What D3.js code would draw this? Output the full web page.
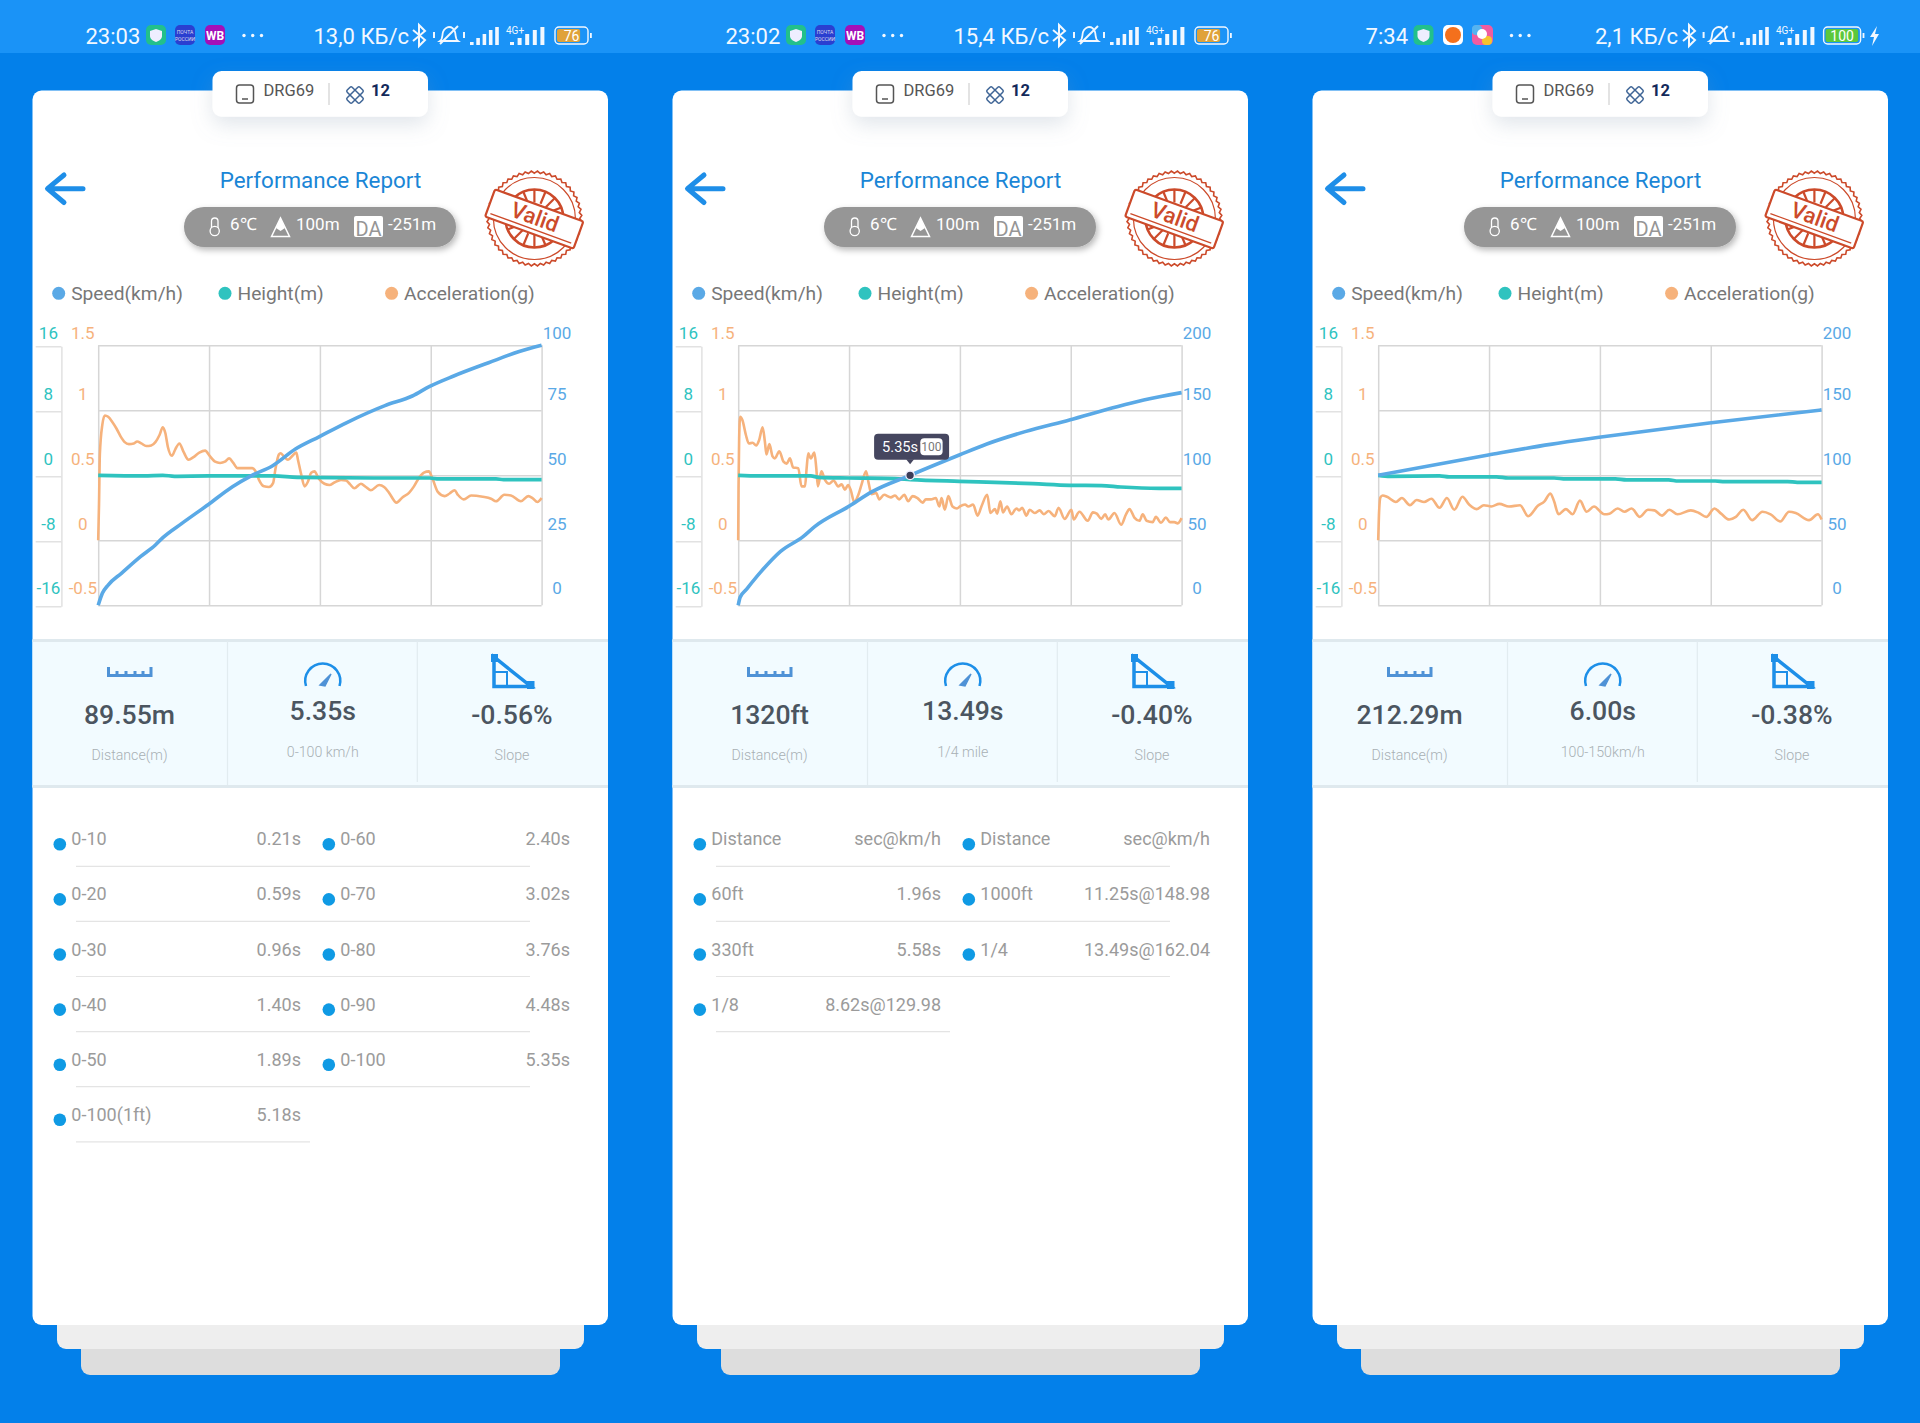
<!DOCTYPE html>
<html>
<head>
<meta charset="utf-8">
<script src="https://cdn.jsdelivr.net/npm/d3@7"></script>
<style>
  html, body { margin: 0; padding: 0; background: #0380ea; }
  svg { display: block; font-family: Roboto, sans-serif; }
</style>
</head>
<body>
<svg id="chart" width="1920" height="1423"></svg>
<script>
// values, time in seconds
var accTicks = [-0.5, 0, 0.5, 1, 1.5];
var heightTicks = [-16, -8, 0, 8, 16];
var speedTicks1 = [0, 25, 50, 75, 100];
var speedTicks2 = [0, 50, 100, 150, 200];
var labelNudge = [-17.7, -16.9, -16.9, -16.8, -12.8];

var acc1Times = [0,0.01,0.02,0.05,0.08,0.12,0.17,0.22,0.27,0.32,0.37,0.43,0.47,0.52,0.58,0.64,0.69,0.74,0.78,0.81,0.84,0.89,0.93,0.98,1.03,1.09,1.15,1.22,1.29,1.35,1.41,1.47,1.53,1.58,1.63,1.68,1.76,1.86,1.90,1.94,2.00,2.06,2.11,2.14,2.18,2.20,2.24,2.29,2.35,2.39,2.41,2.45,2.49,2.53,2.57,2.61,2.66,2.73,2.79,2.85,2.93,2.99,3.04,3.09,3.17,3.23,3.29,3.39,3.45,3.51,3.60,3.67,3.75,3.81,3.87,3.93,3.99,4.03,4.10,4.18,4.24,4.30,4.34,4.41,4.50,4.64,4.74,4.80,4.90,4.98,5.10,5.19,5.24,5.30,5.35];
var acc1Values = [0,0.28,0.66,0.89,0.96,0.95,0.91,0.86,0.80,0.755,0.74,0.745,0.76,0.745,0.725,0.73,0.755,0.81,0.87,0.825,0.72,0.65,0.70,0.745,0.68,0.62,0.64,0.675,0.69,0.645,0.605,0.595,0.605,0.63,0.595,0.555,0.555,0.555,0.53,0.465,0.415,0.41,0.44,0.555,0.66,0.67,0.645,0.62,0.655,0.675,0.62,0.505,0.415,0.45,0.52,0.53,0.475,0.435,0.425,0.445,0.465,0.46,0.43,0.40,0.435,0.41,0.385,0.425,0.41,0.365,0.29,0.33,0.365,0.415,0.48,0.52,0.53,0.48,0.37,0.34,0.36,0.385,0.35,0.315,0.345,0.335,0.32,0.30,0.35,0.345,0.30,0.34,0.325,0.295,0.325];
var speed1Times = [0,0.05,0.12,0.28,0.51,0.69,0.78,1.01,1.33,1.62,1.85,2.10,2.38,2.67,3.00,3.46,3.79,4.00,4.29,4.71,5.08,5.35];
var speed1Values = [0,4.6,7.8,12.3,18.7,23.2,26,31.5,38.8,45.6,49.9,53.6,60.1,64.9,70.3,76.8,80.5,84.2,88.2,93.3,97.6,100];
var height1Times = [0,0.55,0.78,0.92,1.33,2.12,2.40,3.32,4.00,4.11,4.80,4.89,5.35];
var height1Values = [0,-0.08,0,-0.12,-0.08,-0.08,-0.25,-0.33,-0.33,-0.45,-0.45,-0.53,-0.53];

var acc2Times = [0,0.01,0.03,0.06,0.13,0.24,0.33,0.45,0.56,0.65,0.76,0.83,0.88,0.97,1.07,1.14,1.28,1.41,1.51,1.61,1.71,1.87,1.97,2.08,2.13,2.18,2.26,2.37,2.43,2.48,2.59,2.70,2.83,2.97,3.11,3.22,3.32,3.42,3.51,3.61,3.74,3.84,3.98,4.06,4.15,4.29,4.39,4.54,4.75,4.88,5.01,5.17,5.29,5.43,5.58,5.74,5.84,6.00,6.15,6.26,6.33,6.43,6.54,6.67,6.81,6.90,7.06,7.16,7.31,7.45,7.57,7.75,7.85,7.99,8.06,8.16,8.24,8.37,8.50,8.66,8.74,8.84,8.97,9.07,9.23,9.38,9.51,9.66,9.85,9.97,10.16,10.37,10.44,10.62,10.88,11.04,11.16,11.30,11.42,11.52,11.71,11.92,12.07,12.18,12.33,12.49,12.59,12.71,12.90,13.00,13.16,13.31,13.44,13.57,13.68,13.8];
var acc2Values = [0,0.40,0.785,0.95,0.925,0.81,0.745,0.75,0.73,0.77,0.87,0.76,0.66,0.74,0.645,0.63,0.685,0.605,0.59,0.63,0.56,0.555,0.415,0.415,0.555,0.67,0.63,0.675,0.555,0.415,0.53,0.465,0.435,0.46,0.415,0.43,0.39,0.425,0.38,0.295,0.35,0.43,0.53,0.44,0.355,0.365,0.315,0.35,0.33,0.345,0.315,0.35,0.30,0.34,0.325,0.29,0.315,0.315,0.325,0.26,0.325,0.235,0.34,0.26,0.245,0.26,0.275,0.26,0.275,0.19,0.26,0.35,0.21,0.24,0.205,0.30,0.215,0.26,0.20,0.245,0.23,0.25,0.19,0.235,0.21,0.23,0.20,0.225,0.185,0.25,0.165,0.235,0.16,0.22,0.15,0.215,0.205,0.165,0.20,0.16,0.21,0.12,0.20,0.24,0.175,0.15,0.20,0.15,0.14,0.18,0.135,0.175,0.14,0.14,0.13,0.17];
var speed2Times = [0,0.06,0.24,0.71,1.31,2.02,2.38,3.43,4.17,5.35,6.88,7.74,8.93,10.31,11.79,12.62,13.8];
var speed2Values = [0,6.2,11.8,25.9,41.3,52.8,60.5,75.9,87.4,100,115.6,124.1,133.6,142.6,152.8,157.9,163.6];
var height2Times = [0,0.64,2.26,2.50,3.43,4.88,5.36,6.88,7.98,9.17,10.31,11.31,11.91,13.10,13.8];
var height2Values = [0,-0.08,-0.08,-0.25,-0.33,-0.41,-0.53,-0.74,-0.86,-1.03,-1.23,-1.27,-1.44,-1.6,-1.6];

var acc3Times = [0,0.01,0.03,0.06,0.12,0.24,0.32,0.43,0.52,0.62,0.72,0.83,0.93,1.03,1.14,1.23,1.33,1.43,1.53,1.64,1.77,1.92,2.03,2.16,2.25,2.33,2.38,2.44,2.54,2.63,2.73,2.82,2.92,3.06,3.13,3.24,3.33,3.43,3.54,3.65,3.74,3.84,3.94,4.05,4.23,4.34,4.44,4.55,4.64,4.75,4.84,4.94,5.06,5.20,5.31,5.44,5.56,5.65,5.83,5.95,6];
var acc3Values = [0,0.19,0.33,0.345,0.335,0.295,0.325,0.27,0.31,0.295,0.32,0.25,0.325,0.235,0.335,0.275,0.24,0.27,0.26,0.28,0.26,0.27,0.185,0.265,0.30,0.36,0.30,0.20,0.24,0.20,0.305,0.22,0.26,0.20,0.205,0.245,0.22,0.245,0.18,0.235,0.23,0.19,0.235,0.20,0.23,0.21,0.18,0.245,0.205,0.16,0.18,0.235,0.155,0.22,0.20,0.145,0.22,0.21,0.155,0.20,0.16];
var speed3Times = [0,1.49,2.33,2.99,4.48,6];
var speed3Values = [100,115.6,123.8,129.2,140.3,150.3];
var height3Times = [0,0.16,0.83,0.96,1.60,1.76,2.38,2.54,3.21,3.36,3.93,4.06,4.56,4.69,5.54,5.67,6];
var height3Values = [0,-0.12,-0.08,-0.2,-0.2,-0.33,-0.33,-0.45,-0.45,-0.57,-0.57,-0.7,-0.7,-0.78,-0.78,-0.86,-0.86];

var legendNames = ["Speed(km/h)", "Height(m)", "Acceleration(g)"];
var stats1 = ["89.55m", "5.35s", "-0.56%"];
var stats2 = ["1320ft", "13.49s", "-0.40%"];
var stats3 = ["212.29m", "6.00s", "-0.38%"];
var statLabels1 = ["Distance(m)", "0-100 km/h", "Slope"];
var statLabels2 = ["Distance(m)", "1/4 mile", "Slope"];
var statLabels3 = ["Distance(m)", "100-150km/h", "Slope"];

var list1Left = [["0-10","0.21s"],["0-20","0.59s"],["0-30","0.96s"],["0-40","1.40s"],["0-50","1.89s"],["0-100(1ft)","5.18s"]];
var list1Right = [["0-60","2.40s"],["0-70","3.02s"],["0-80","3.76s"],["0-90","4.48s"],["0-100","5.35s"]];
var list2Left = [["Distance","sec@km/h"],["60ft","1.96s"],["330ft","5.58s"],["1/8","8.62s@129.98"]];
var list2Right = [["Distance","sec@km/h"],["1000ft","11.25s@148.98"],["1/4","13.49s@162.04"]];

var panels = [
  { tMax: 5.35, speedTicks: speedTicks1, acc: [acc1Times, acc1Values], speed: [speed1Times, speed1Values], height: [height1Times, height1Values],
    stats: stats1, statLabels: statLabels1, left: list1Left, right: list1Right },
  { tMax: 13.8, speedTicks: speedTicks2, acc: [acc2Times, acc2Values], speed: [speed2Times, speed2Values], height: [height2Times, height2Values],
    stats: stats2, statLabels: statLabels2, left: list2Left, right: list2Right, tip: { t: 5.35, speed: 100 } },
  { tMax: 6, speedTicks: speedTicks2, acc: [acc3Times, acc3Values], speed: [speed3Times, speed3Values], height: [height3Times, height3Values],
    stats: stats3, statLabels: statLabels3, left: [], right: [] }
];

// status bars differ a bit between the three phones
var statusBars = [
  { time: "23:03", rate: "13,0 КБ/с", timeX: 85.5, shield: 146, appA: 175, appB: 205, dots: 244, rateX: 313.5, bt: 419, bell: 449, sig: 470, sig2: 510, bat: 555, level: "76" },
  { time: "23:02", rate: "15,4 КБ/с", timeX: 85.5, shield: 146, appA: 175, appB: 205, dots: 244, rateX: 313.5, bt: 419, bell: 449, sig: 470, sig2: 510, bat: 555, level: "76" },
  { time: "7:34", rate: "2,1 КБ/с", timeX: 85.6, shield: 133.5, appA: 163, appB: 192, dots: 231.5, rateX: 315, bt: 409, bell: 438.6, sig: 460, sig2: 500, bat: 543.6, level: "100" }
];

var svg = d3.select("#chart");
var defs = svg.append("defs");
var soft = defs.append("filter").attr("id", "soft").attr("x", "-30%").attr("y", "-50%").attr("width", "160%").attr("height", "250%");
soft.append("feDropShadow").attr("dx", 0).attr("dy", 8).attr("stdDeviation", 10).attr("flood-color", "#8a9ab0").attr("flood-opacity", 0.25);
var pillShade = defs.append("filter").attr("id", "pillShade").attr("x", "-10%").attr("y", "-30%").attr("width", "120%").attr("height", "180%");
pillShade.append("feDropShadow").attr("dx", 2).attr("dy", 3).attr("stdDeviation", 3).attr("flood-color", "#000").attr("flood-opacity", 0.28);

svg.append("rect").attr("width", 1920).attr("height", 1423).attr("fill", "#0380ea");
svg.append("rect").attr("width", 1920).attr("height", 53).attr("fill", "#1a93f7");

var plotLeft = 98.2, plotRight = 541.6, plotTop = 345.3, plotBottom = 605.3;
var blue = "#5aa9e6", teal = "#2fc3bf", orange = "#f6b27c", dotBlue = "#0f9ae4";

panels.forEach(function(p, i) {
  var g = svg.append("g").attr("transform", "translate(" + (640 * i) + ",0)");
  drawStatus(g, statusBars[i], i);
  drawCard(g);
  drawHeader(g);
  drawLegend(g);
  drawChart(g, p);
  drawStats(g, p);
  drawList(g, p.left, 0);
  drawList(g, p.right, 1);
});

function drawStatus(g, s, i) {
  var white = "#f2f8ff";
  g.append("text").attr("x", s.timeX).attr("y", 43.5).attr("font-size", 22).attr("fill", white).text(s.time);
  // shield
  g.append("rect").attr("x", s.shield).attr("y", 25).attr("width", 20).attr("height", 20).attr("rx", 5).attr("fill", "#22c08b");
  g.append("path").attr("d", "M" + (s.shield + 10) + ",29l6,2v5c0,3 -3,5 -6,6c-3,-1 -6,-3 -6,-6v-5z").attr("fill", "#eef");
  if (i < 2) {
    g.append("rect").attr("x", s.appA).attr("y", 25).attr("width", 20).attr("height", 20).attr("rx", 5).attr("fill", "#2a3fd0");
    g.append("text").attr("x", s.appA + 10).attr("y", 34).attr("text-anchor", "middle").attr("font-size", 5).attr("fill", "#dde").text("ПОЧТА");
    g.append("text").attr("x", s.appA + 10).attr("y", 41).attr("text-anchor", "middle").attr("font-size", 5).attr("fill", "#dde").text("РОССИИ");
    g.append("rect").attr("x", s.appB).attr("y", 25).attr("width", 20).attr("height", 20).attr("rx", 5).attr("fill", "#a30fb8");
    g.append("text").attr("x", s.appB + 10).attr("y", 40).attr("text-anchor", "middle").attr("font-size", 12).attr("font-weight", 700).attr("fill", "#fff").text("WB");
  } else {
    g.append("rect").attr("x", s.appA).attr("y", 25).attr("width", 20).attr("height", 20).attr("rx", 5).attr("fill", "#fff");
    g.append("circle").attr("cx", s.appA + 10).attr("cy", 35).attr("r", 8).attr("fill", "#f4701c");
    g.append("rect").attr("x", s.appB).attr("y", 25).attr("width", 21).attr("height", 20).attr("rx", 5).attr("fill", "#f05ca0");
    g.append("rect").attr("x", s.appB).attr("y", 25).attr("width", 10).attr("height", 10).attr("rx", 4).attr("fill", "#55b4f0");
    g.append("rect").attr("x", s.appB + 10).attr("y", 36).attr("width", 10).attr("height", 9).attr("rx", 4).attr("fill", "#f6c22e");
    g.append("circle").attr("cx", s.appB + 10).attr("cy", 34).attr("r", 5).attr("fill", "#fff");
  }
  [0, 8.7, 17.5].forEach(function(d) {
    g.append("circle").attr("cx", s.dots + d).attr("cy", 35.5).attr("r", 1.7).attr("fill", white);
  });
  g.append("text").attr("x", s.rateX).attr("y", 43.5).attr("font-size", 22).attr("fill", white).text(s.rate);
  // bluetooth
  g.append("path").attr("d", "M" + (s.bt - 6) + ",30L" + (s.bt + 6) + ",40L" + s.bt + ",46V25L" + (s.bt + 6) + ",31L" + (s.bt - 6) + ",41")
    .attr("fill", "none").attr("stroke", white).attr("stroke-width", 2);
  // muted bell
  g.append("path").attr("d", "M" + (s.bell - 9) + ",41c3,-2 2,-6 3,-9c1,-3 4,-5 6,-5c3,0 5,2 6,5c1,3 0,7 3,9z").attr("fill", "none").attr("stroke", white).attr("stroke-width", 1.8);
  g.append("path").attr("d", "M" + (s.bell - 9) + ",44L" + (s.bell + 9) + ",26").attr("stroke", white).attr("stroke-width", 2);
  g.append("path").attr("d", "M" + (s.bell - 15) + ",32v6M" + (s.bell + 15) + ",32v6").attr("stroke", white).attr("stroke-width", 2);
  // signal bars
  [3, 7, 11, 15, 18].forEach(function(h, k) {
    g.append("rect").attr("x", s.sig + k * 6.3).attr("y", 45 - h).attr("width", 3.6).attr("height", h).attr("fill", white);
    g.append("rect").attr("x", s.sig2 + k * 7.6).attr("y", 45 - h).attr("width", 4).attr("height", h).attr("fill", white);
  });
  g.append("text").attr("x", s.sig2 - 4).attr("y", 34).attr("font-size", 10).attr("fill", white).text("4G+");
  // battery
  var w = i < 2 ? 33 : 37;
  var fillCol = i < 2 ? "#e0a23a" : "#5cc83c";
  g.append("rect").attr("x", s.bat).attr("y", 27).attr("width", w).attr("height", 17).attr("rx", 4).attr("fill", "none").attr("stroke", white).attr("stroke-width", 1.4);
  g.append("rect").attr("x", s.bat + 2).attr("y", 29).attr("width", w * (i < 2 ? 0.7 : 0.88)).attr("height", 13).attr("rx", 2).attr("fill", fillCol);
  g.append("rect").attr("x", s.bat + w + 2).attr("y", 33).attr("width", 1.8).attr("height", 5).attr("fill", white);
  g.append("text").attr("x", s.bat + w / 2).attr("y", 41).attr("text-anchor", "middle").attr("font-size", 14).attr("fill", "#fff").text(s.level);
  if (i == 2) {
    g.append("path").attr("d", "M597,26l-7,11h4l-2,9l7,-12h-4z").attr("fill", white);
  }
}

function drawCard(g) {
  g.append("rect").attr("x", 81).attr("y", 1300).attr("width", 479).attr("height", 75).attr("rx", 9).attr("fill", "#dddddd");
  g.append("rect").attr("x", 57).attr("y", 1280).attr("width", 527).attr("height", 69).attr("rx", 9).attr("fill", "#eeeeee");
  g.append("rect").attr("x", 32.5).attr("y", 90.5).attr("width", 575.5).attr("height", 1234.5).attr("rx", 9).attr("fill", "#fff");
}

function drawHeader(g) {
  // device pill
  g.append("rect").attr("x", 212.5).attr("y", 71).attr("width", 215.5).attr("height", 45.7).attr("rx", 9).attr("fill", "#fff").attr("filter", "url(#soft)");
  g.append("rect").attr("x", 236.5).attr("y", 85).attr("width", 17).attr("height", 18).attr("rx", 3).attr("fill", "none").attr("stroke", "#555").attr("stroke-width", 1.5);
  g.append("path").attr("d", "M242,99h6").attr("stroke", "#555").attr("stroke-width", 1.5);
  g.append("text").attr("x", 263.5).attr("y", 96).attr("font-size", 16.5).attr("fill", "#555").text("DRG69");
  g.append("path").attr("d", "M329,83v22").attr("stroke", "#d0d0d0").attr("stroke-width", 1.2);
  var sat = g.append("g").attr("transform", "translate(355,95) rotate(-45)").attr("fill", "none").attr("stroke", "#3f6596").attr("stroke-width", 1.5);
  sat.append("rect").attr("x", -9).attr("y", -3.5).attr("width", 18).attr("height", 7).attr("rx", 1.5);
  sat.append("rect").attr("x", -3.5).attr("y", -9).attr("width", 7).attr("height", 18).attr("rx", 1.5);
  g.append("text").attr("x", 371).attr("y", 96).attr("font-size", 16.5).attr("font-weight", 700).attr("fill", "#14295a").text("12");

  // back arrow
  g.append("path").attr("d", "M83,188.7H48M64,175L47.5,188.7L64,202.5").attr("fill", "none").attr("stroke", "#1e8ee8").attr("stroke-width", 5).attr("stroke-linecap", "round").attr("stroke-linejoin", "round");

  g.append("text").attr("x", 320.5).attr("y", 187.5).attr("text-anchor", "middle").attr("font-size", 22.4).attr("fill", "#1a86d6").text("Performance Report");

  // weather pill
  g.append("rect").attr("x", 184).attr("y", 207).attr("width", 272).attr("height", 40).attr("rx", 20).attr("fill", "#969696").attr("filter", "url(#pillShade)");
  g.append("rect").attr("x", 211.5).attr("y", 218).attr("width", 6.5).attr("height", 13).attr("rx", 3.2).attr("fill", "none").attr("stroke", "#fff").attr("stroke-width", 1.3);
  g.append("circle").attr("cx", 214.7).attr("cy", 231).attr("r", 4.6).attr("fill", "#969696").attr("stroke", "#fff").attr("stroke-width", 1.3);
  g.append("text").attr("x", 230).attr("y", 230).attr("font-size", 17).attr("fill", "#fff").text("6℃");
  g.append("path").attr("d", "M271.5,236.5L280.5,218L289.5,236.5Z").attr("fill", "none").attr("stroke", "#fff").attr("stroke-width", 1.5);
  g.append("path").attr("d", "M276,228L280.5,218L285,228L280.5,231Z").attr("fill", "#fff");
  g.append("text").attr("x", 296).attr("y", 230).attr("font-size", 17).attr("fill", "#fff").text("100m");
  g.append("rect").attr("x", 354).attr("y", 216).attr("width", 29).attr("height", 21).attr("rx", 2).attr("fill", "#fff");
  g.append("text").attr("x", 368.5).attr("y", 235.5).attr("text-anchor", "middle").attr("font-size", 20).attr("fill", "#969696").text("DA");
  g.append("text").attr("x", 388).attr("y", 230).attr("font-size", 17).attr("fill", "#fff").text("-251m");

  drawStamp(g);
}

function drawStamp(g) {
  var red = "#cc4a2a";
  var s = g.append("g").attr("transform", "translate(534.4,218.5)");
  // toothed ring
  var teeth = [];
  for (var k = 0; k < 96; k++) {
    teeth.push([k / 96 * 2 * Math.PI, k % 2 ? 47.5 : 45.3]);
  }
  s.append("path").attr("d", d3.lineRadial().curve(d3.curveLinearClosed)(teeth)).attr("fill", "none").attr("stroke", red).attr("stroke-width", 1.6);
  s.append("circle").attr("r", 41).attr("fill", "none").attr("stroke", red).attr("stroke-width", 1.2);
  s.append("circle").attr("r", 29).attr("fill", "none").attr("stroke", red).attr("stroke-width", 2.5);
  var rays = [];
  for (var r = 0; r < 16; r++) {
    rays.push(r / 16 * 2 * Math.PI);
  }
  s.selectAll("path.ray").data(rays).enter().append("path").attr("class", "ray")
    .attr("d", function(a) {
      return "M" + (16 * Math.cos(a)) + "," + (16 * Math.sin(a)) + "L" + (29 * Math.cos(a)) + "," + (29 * Math.sin(a));
    })
    .attr("stroke", red).attr("stroke-width", 2.2);
  var band = s.append("g").attr("transform", "rotate(20)");
  band.append("rect").attr("x", -47).attr("y", -14).attr("width", 94).attr("height", 29).attr("rx", 2).attr("fill", "#fff").attr("stroke", red).attr("stroke-width", 2.2);
  band.append("path").attr("d", "M-43,10.5H43").attr("stroke", red).attr("stroke-width", 1.3);
  band.append("text").attr("text-anchor", "middle").attr("y", 6).attr("font-size", 22).attr("font-weight", 500).attr("fill", red).text("Valid");
}

function drawLegend(g) {
  var dots = [58.7, 225, 391.6];
  var cols = [blue, teal, orange];
  legendNames.forEach(function(name, k) {
    g.append("circle").attr("cx", dots[k]).attr("cy", 293.3).attr("r", 6.5).attr("fill", cols[k]);
    g.append("text").attr("x", dots[k] + 12.5).attr("y", 299.5).attr("font-size", 19.2).attr("fill", "#777").text(name);
  });
}

function drawChart(g, p) {
  var x = d3.scaleLinear().domain([0, p.tMax]).range([plotLeft, plotRight]);
  var yAcc = d3.scaleLinear().domain([-0.5, 1.5]).range([plotBottom, plotTop]);
  var yHeight = d3.scaleLinear().domain([-16, 16]).range([plotBottom, plotTop]);
  var ySpeed = d3.scaleLinear().domain([p.speedTicks[0], p.speedTicks[4]]).range([plotBottom, plotTop]);

  // grid
  var quarters = d3.range(0, 5).map(function(k) { return p.tMax * k / 4; });
  var gridX = g.append("g").attr("transform", "translate(0," + plotBottom + ")")
    .call(d3.axisBottom(x).tickValues(quarters).tickSize(plotTop - plotBottom).tickSizeOuter(0).tickFormat(""));
  var gridY = g.append("g").attr("transform", "translate(" + plotLeft + ",0)")
    .call(d3.axisLeft(yAcc).tickValues(accTicks).tickSize(plotLeft - plotRight).tickSizeOuter(0).tickFormat(""));
  gridX.select(".domain").remove();
  gridY.select(".domain").remove();
  g.selectAll("g.tick line").attr("stroke", "#d6d6d6").attr("stroke-width", 1.5);

  // the three label columns, each label sits a little above its own tick
  var heightAxis = g.append("g").attr("transform", "translate(61.4,1)")
    .call(d3.axisLeft(yHeight).tickValues(heightTicks).tickSize(25.7).tickSizeOuter(0).tickFormat(function(d) { return d; }));
  heightAxis.select(".domain").attr("stroke", "#dddddd").attr("stroke-width", 1.3);
  heightAxis.selectAll("line").attr("stroke", "#dddddd").attr("stroke-width", 1.3);
  styleLabels(heightAxis, -13, teal, -1);

  var accAxis = g.append("g").attr("transform", "translate(82.8,0)")
    .call(d3.axisLeft(yAcc).tickValues(accTicks).tickSize(0).tickSizeOuter(0).tickFormat(function(d) { return d; }));
  accAxis.select(".domain").remove();
  styleLabels(accAxis, 0, orange, 0);

  var speedAxis = g.append("g").attr("transform", "translate(557,0)")
    .call(d3.axisRight(ySpeed).tickValues(p.speedTicks).tickSize(0).tickSizeOuter(0).tickFormat(function(d) { return d; }));
  speedAxis.select(".domain").remove();
  styleLabels(speedAxis, 0, blue, 0);

  drawLine(g, d3.zip(p.acc[0], p.acc[1]), x, yAcc, orange, 2.6);
  drawLine(g, d3.zip(p.height[0], p.height[1]), x, yHeight, teal, 3.7);
  drawLine(g, d3.zip(p.speed[0], p.speed[1]), x, ySpeed, blue, 3.6);

  if (p.tip) {
    var tx = x(p.tip.t), ty = ySpeed(p.tip.speed);
    var tip = g.append("g");
    tip.append("rect").attr("x", tx - 36).attr("y", ty - 41.5).attr("width", 75).attr("height", 26).attr("rx", 4).attr("fill", "#45465f");
    tip.append("path").attr("d", "M" + (tx - 4) + "," + (ty - 16) + "h8l-4,5z").attr("fill", "#45465f");
    tip.append("text").attr("x", tx - 28).attr("y", ty - 23.5).attr("font-size", 14.6).attr("fill", "#fff").text(p.tip.t + "s");
    tip.append("rect").attr("x", tx + 10.2).attr("y", ty - 37).attr("width", 22.3).attr("height", 17).attr("rx", 4).attr("fill", "#fff");
    tip.append("text").attr("x", tx + 21.3).attr("y", ty - 24).attr("text-anchor", "middle").attr("font-size", 12).attr("fill", "#777").text(p.tip.speed);
    tip.append("circle").attr("cx", tx).attr("cy", ty).attr("r", 4.3).attr("fill", "#3c3d58").attr("stroke", "#eef").attr("stroke-width", 1.3);
  }
}

function styleLabels(axis, xPos, col, shift) {
  axis.selectAll("text")
    .attr("x", xPos)
    .attr("text-anchor", "middle")
    .attr("font-family", "Roboto, sans-serif")
    .attr("font-size", 17)
    .attr("fill", col)
    .attr("dy", function(d, k) { return (labelNudge[k] + 6 + shift) + "px"; });
}

function drawLine(g, rows, x, y, col, w) {
  var line = d3.line()
    .x(function(d) { return x(d[0]); })
    .y(function(d) { return y(d[1]); })
    .curve(d3.curveMonotoneX);
  g.append("path").attr("d", line(rows)).attr("fill", "none").attr("stroke", col).attr("stroke-width", w).attr("stroke-linejoin", "round");
}

function drawStats(g, p) {
  var iconBlue = "#1d8fe8";
  g.append("rect").attr("x", 32.5).attr("y", 640).attr("width", 575.5).attr("height", 147).attr("fill", "#f2fbff");
  g.append("path").attr("d", "M32.5,640.5H608M32.5,786.5H608").attr("stroke", "#dfe9ee").attr("stroke-width", 3);
  g.append("path").attr("d", "M227.5,641V785M417.3,641V782").attr("stroke", "#e2ecf0").attr("stroke-width", 1.2);

  var centers = [129.5, 322.8, 512];
  var valueY = [724, 720, 724];
  var labelY = [760, 756.5, 760];
  p.stats.forEach(function(v, k) {
    g.append("text").attr("x", centers[k]).attr("y", valueY[k]).attr("text-anchor", "middle").attr("font-size", 26.6).attr("font-weight", 500).attr("fill", "#4b5560").text(v);
    g.append("text").attr("x", centers[k]).attr("y", labelY[k]).attr("text-anchor", "middle").attr("font-size", 14.2).attr("font-weight", 300).attr("fill", "#a8b0b4").text(p.statLabels[k]);
  });

  // ruler
  g.append("path").attr("d", "M108.5,667V675.5H151V667M117,671V675M126,671V675M135,671V675M143,671V675")
    .attr("fill", "none").attr("stroke", "#4f92d6").attr("stroke-width", 3);
  // gauge
  g.append("path").attr("d", "M306,686A17.5,17.5 0 1 1 339.5,686").attr("fill", "none").attr("stroke", iconBlue).attr("stroke-width", 2.5);
  g.append("path").attr("d", "M320,685L331,674L325,686Z").attr("fill", "#4f92d6").attr("stroke", "#4f92d6").attr("stroke-width", 1.5);
  // slope
  g.append("path").attr("d", "M494,657V686.5H531Z").attr("fill", "none").attr("stroke", iconBlue).attr("stroke-width", 3.5);
  g.append("rect").attr("x", 494).attr("y", 672).attr("width", 13).attr("height", 14.5).attr("fill", "none").attr("stroke", iconBlue).attr("stroke-width", 2);
  g.append("rect").attr("x", 491).attr("y", 654).attr("width", 7).attr("height", 8).attr("fill", iconBlue);
  g.append("rect").attr("x", 527).attr("y", 681).attr("width", 7.5).attr("height", 8).attr("fill", iconBlue);
}

function drawList(g, rows, col) {
  var dx = col * 269;
  rows.forEach(function(r, k) {
    var base = 845.3 + k * 55.1;
    g.append("circle").attr("cx", 59.8 + dx).attr("cy", base - 1).attr("r", 6.3).attr("fill", dotBlue);
    g.append("text").attr("x", 71.3 + dx).attr("y", base).attr("font-size", 18).attr("fill", "#9b9b9b").text(r[0]);
    g.append("text").attr("x", 301 + dx).attr("y", base).attr("text-anchor", "end").attr("font-size", 18).attr("fill", "#9b9b9b").text(r[1]);
    var x1 = col ? 310 : 76, x2 = col ? 530 : 310;
    g.append("path").attr("d", "M" + x1 + "," + (base + 21) + "H" + x2).attr("stroke", "#e4e4e4").attr("stroke-width", 1.2);
  });
}
</script>
</body>
</html>
